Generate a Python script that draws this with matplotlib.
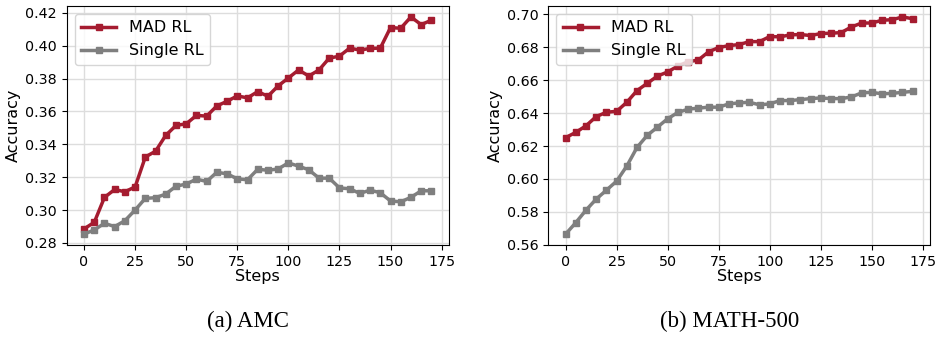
import numpy as np
import matplotlib
matplotlib.use("Agg")
import matplotlib.pyplot as plt

steps = list(range(0, 175, 5))

# (a) AMC
amc_mad = [0.2885, 0.2925, 0.3077, 0.3125, 0.3111, 0.3141, 0.3323, 0.3358, 0.3455, 0.3515,
           0.3525, 0.3576, 0.3572, 0.3634, 0.3662, 0.3695, 0.3683, 0.3721, 0.3693, 0.3756,
           0.3804, 0.3853, 0.3816, 0.3853, 0.3925, 0.3937, 0.3986, 0.3974, 0.3984, 0.3986,
           0.4111, 0.4107, 0.4176, 0.4129, 0.4156]
amc_single = [0.2853, 0.2879, 0.2919, 0.2899, 0.2935, 0.3000, 0.3071, 0.3075, 0.3097, 0.3145,
              0.3158, 0.3188, 0.3174, 0.3230, 0.3220, 0.3190, 0.3184, 0.3248, 0.3242, 0.3250,
              0.3287, 0.3267, 0.3245, 0.3194, 0.3194, 0.3135, 0.3129, 0.3101, 0.3121, 0.3105,
              0.3055, 0.3050, 0.3077, 0.3117, 0.3117]

# (b) MATH-500
math_mad = [0.6251, 0.6283, 0.6323, 0.6379, 0.6405, 0.6411, 0.6466, 0.6537, 0.6581, 0.6625,
            0.6650, 0.6686, 0.6712, 0.6722, 0.6772, 0.6798, 0.6810, 0.6816, 0.6834, 0.6834,
            0.6865, 0.6863, 0.6875, 0.6877, 0.6871, 0.6883, 0.6885, 0.6889, 0.6923, 0.6947,
            0.6947, 0.6964, 0.6967, 0.6984, 0.6973]
math_single = [0.5665, 0.5735, 0.5811, 0.5878, 0.5932, 0.5987, 0.6079, 0.6192, 0.6265, 0.6315,
               0.6366, 0.6404, 0.6424, 0.6430, 0.6436, 0.6436, 0.6456, 0.6462, 0.6466, 0.6450,
               0.6456, 0.6476, 0.6476, 0.6482, 0.6488, 0.6492, 0.6488, 0.6488, 0.6498, 0.6523,
               0.6526, 0.6517, 0.6520, 0.6526, 0.6532]

captions = ["(a) AMC", "(b) MATH-500"]
red = "#a51c30"
gray = "#7f7f7f"

fig = plt.figure(figsize=(9.38, 3.37), dpi=100)
ax1 = fig.add_axes([0.0711, 0.273, 0.4073, 0.709])
ax2 = fig.add_axes([0.5845, 0.273, 0.4070, 0.709])

for ax, mad, single, cap in [(ax1, amc_mad, amc_single, captions[0]),
                             (ax2, math_mad, math_single, captions[1])]:
    ax.plot(steps, mad, color=red, marker="s", markersize=4.5, linewidth=2.5, label="MAD RL")
    ax.plot(steps, single, color=gray, marker="s", markersize=4.5, linewidth=2.5, label="Single RL")
    ax.set_xticks([0, 25, 50, 75, 100, 125, 150, 175])
    ax.grid(True, color="#dddddd", linewidth=1)
    ax.set_axisbelow(True)
    ax.tick_params(labelsize=10.3)
    ax.set_xlabel("Steps", fontsize=11.5, labelpad=0)
    ax.set_ylabel("Accuracy", fontsize=11.5, labelpad=3)
    ax.yaxis.set_major_formatter(matplotlib.ticker.FormatStrFormatter("%.2f"))
    ax.legend(loc="upper left", fontsize=11.5, handlelength=2.2)
    pos = ax.get_position()
    fig.text((pos.x0 + pos.x1) / 2 - 0.01, 0.045, cap, ha="center", va="center",
             fontsize=16.5, family="Liberation Serif")

ax1.set_yticks([0.28, 0.30, 0.32, 0.34, 0.36, 0.38, 0.40, 0.42])
ax2.set_yticks([0.56, 0.58, 0.60, 0.62, 0.64, 0.66, 0.68, 0.70])

fig.savefig("out.png", dpi=100)
